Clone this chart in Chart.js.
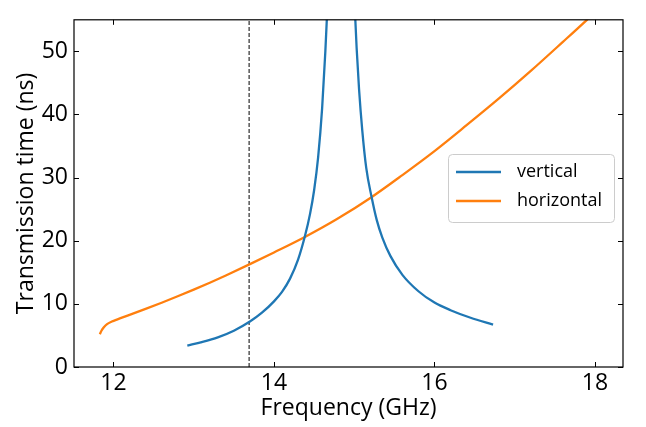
<!DOCTYPE html>
<html><head><meta charset="utf-8">
<script src="https://cdn.jsdelivr.net/npm/chart.js@4/dist/chart.umd.min.js"></script>
<style>html,body{margin:0;padding:0;background:#fff;}canvas{display:block;}</style>
</head><body>
<canvas id="c" width="646" height="427"></canvas>
<script>
const xTickValues = [12, 14, 16, 18];
const yTickValues = [0, 10, 20, 30, 40, 50];
const seriesNames = ['vertical', 'horizontal'];
const xAxisTitle = 'Frequency (GHz)';
const yAxisTitle = 'Transmission time (ns)';

const vertFreq = [12.92, 13.10, 13.30, 13.50, 13.70, 13.85, 14.00, 14.10, 14.20, 14.30, 14.385, 14.45, 14.50, 14.55, 14.60, 14.64, 14.66, 14.68,
                  14.83,
                  14.99, 15.01, 15.03, 15.06, 15.10, 15.15, 15.215, 15.28, 15.35, 15.45, 15.60, 15.80, 16.00, 16.20, 16.45, 16.73];
const vertTime = [3.4, 3.95, 4.7, 5.75, 7.2, 8.6, 10.4, 11.9, 14.0, 17.0, 20.7, 24.3, 28.0, 33.2, 41.0, 50.0, 55.5, 62,
                  null,
                  62, 56, 50.5, 44, 37.5, 31.5, 27.0, 23.3, 20.5, 17.6, 14.6, 12.0, 10.2, 9.0, 7.8, 6.7];

const horizFreq = [11.83, 11.85, 11.88, 11.92, 11.98, 12.05, 12.20, 12.40, 12.60, 12.80, 13.00, 13.20, 13.40, 13.70, 14.00, 14.385, 14.78, 15.215, 15.60, 16.00, 16.40, 16.80, 17.20, 17.60, 17.90, 18.04];
const horizTime = [5.2, 5.75, 6.3, 6.8, 7.2, 7.55, 8.25, 9.2, 10.18, 11.2, 12.25, 13.35, 14.5, 16.3, 18.15, 20.6, 23.4, 26.9, 30.4, 34.2, 38.3, 42.5, 46.9, 51.5, 55.0, 56.7];

const markerFreq = [13.69, 13.69];
const markerTime = [0, 55];

const xRange = [11.508, 18.349];
const yRange = [0, 55];

const toPts = (xs, ys) => xs.map((v, i) => ({x: v, y: ys[i]}));
const FONT = "'Open Sans', 'Noto Sans', sans-serif";

const framePlugin = {
  id: 'frame',
  afterDraw(chart) {
    const {ctx, chartArea: a, scales} = chart;
    const x = scales.x, y = scales.y;
    ctx.save();
    ctx.strokeStyle = '#000';
    ctx.lineWidth = 1.2;
    ctx.strokeRect(a.left, a.top, a.right - a.left, a.bottom - a.top);
    ctx.lineWidth = 1;
    const L = 5;
    ctx.beginPath();
    x.ticks.forEach(t => {
      const p = Math.round(x.getPixelForValue(t.value)) + 0.5;
      ctx.moveTo(p, a.bottom); ctx.lineTo(p, a.bottom - L);
      ctx.moveTo(p, a.top); ctx.lineTo(p, a.top + L);
    });
    y.ticks.forEach(t => {
      const p = Math.round(y.getPixelForValue(t.value)) + 0.5;
      ctx.moveTo(a.left, p); ctx.lineTo(a.left + L, p);
      ctx.moveTo(a.right, p); ctx.lineTo(a.right - L, p);
    });
    ctx.stroke();

    // legend
    const bx = 448, by = 154, bw = 166, bh = 68;
    ctx.fillStyle = 'rgba(255,255,255,0.85)';
    ctx.strokeStyle = '#cccccc';
    ctx.lineWidth = 1;
    ctx.beginPath();
    ctx.roundRect(bx + 0.5, by + 0.5, bw, bh, 4);
    ctx.fill();
    ctx.stroke();
    const items = chart.data.datasets.filter(d => seriesNames.includes(d.label));
    items.forEach((d, i) => {
      const yy = by + 18 + i * 29;
      ctx.strokeStyle = d.borderColor;
      ctx.lineWidth = d.borderWidth;
      ctx.beginPath();
      ctx.moveTo(456, yy); ctx.lineTo(501, yy);
      ctx.stroke();
      ctx.fillStyle = '#000';
      ctx.font = '18px ' + FONT;
      ctx.textBaseline = 'middle';
      ctx.textAlign = 'left';
      ctx.fillText(d.label, 517, yy);
    });
    ctx.restore();
  }
};

new Chart(document.getElementById('c'), {
  type: 'line',
  data: {
    datasets: [
      {label: seriesNames[0], data: toPts(vertFreq, vertTime), borderColor: '#1f77b4', borderWidth: 2.3, pointRadius: 0, fill: false, cubicInterpolationMode: 'monotone', spanGaps: false},
      {label: seriesNames[1], data: toPts(horizFreq, horizTime), borderColor: '#ff7f0e', borderWidth: 2.3, pointRadius: 0, fill: false, cubicInterpolationMode: 'monotone'},
      {label: 'marker', data: toPts(markerFreq, markerTime), borderColor: '#000', borderWidth: 1, borderDash: [4, 2], pointRadius: 0, fill: false}
    ]
  },
  options: {
    responsive: false,
    animation: false,
    devicePixelRatio: 1,
    layout: {padding: {top: 8, right: 23, left: 0, bottom: 0}},
    plugins: {legend: {display: false}, tooltip: {enabled: false}},
    scales: {
      x: {
        type: 'linear', min: xRange[0], max: xRange[1],
        afterFit: s => { s.height = 60; },
        afterBuildTicks: s => { s.ticks = xTickValues.map(v => ({value: v})); },
        grid: {display: false, drawTicks: false},
        border: {display: false},
        ticks: {color: '#000', font: {family: FONT, size: 23}, padding: 3, maxRotation: 0, autoSkip: false},
        title: {display: true, text: xAxisTitle, color: '#000', font: {family: FONT, size: 23}, padding: {top: 0, bottom: 5}}
      },
      y: {
        type: 'linear', min: yRange[0], max: yRange[1],
        afterFit: s => { s.width = 74; },
        afterBuildTicks: s => { s.ticks = yTickValues.map(v => ({value: v})); },
        grid: {display: false, drawTicks: false},
        border: {display: false},
        ticks: {color: '#000', font: {family: FONT, size: 23}, padding: 6, autoSkip: false},
        title: {display: true, text: yAxisTitle, color: '#000', font: {family: FONT, size: 23}, padding: {top: 13, bottom: 0}}
      }
    }
  },
  plugins: [framePlugin]
});
</script>
</body></html>
